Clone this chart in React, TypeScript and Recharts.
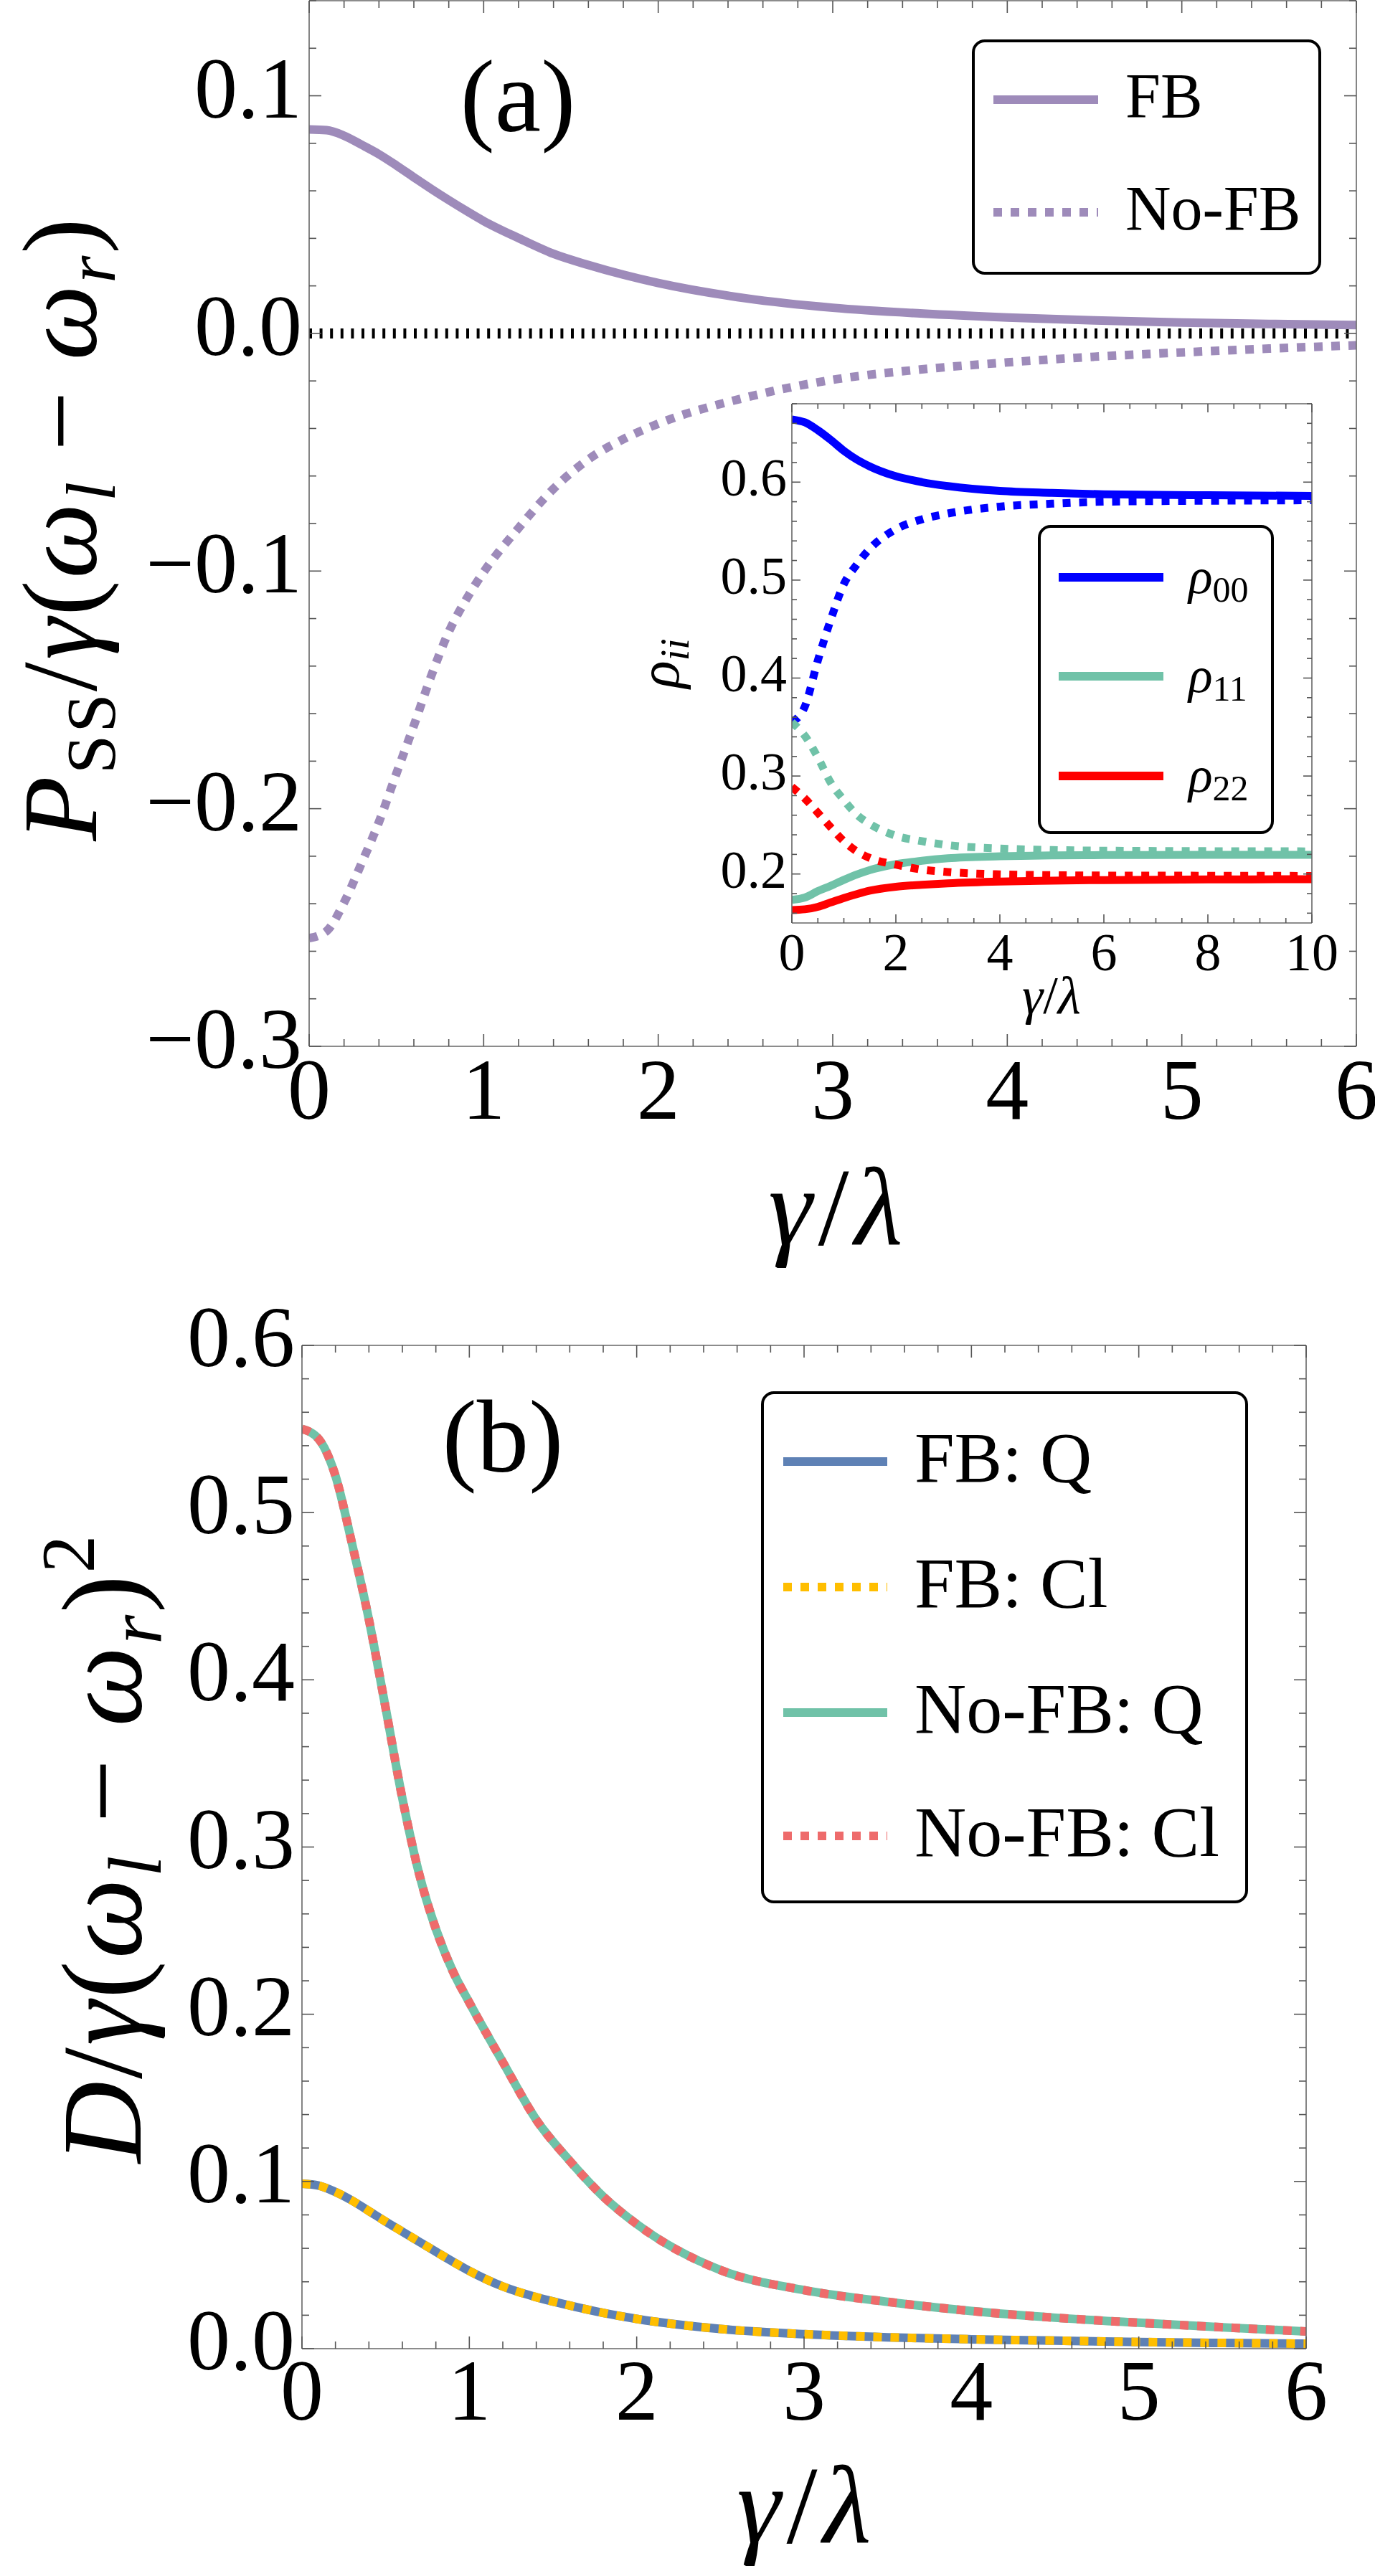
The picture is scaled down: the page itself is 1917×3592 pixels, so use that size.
import React from "react";
import { LineChart, Line, XAxis, YAxis, ReferenceLine, Legend } from "recharts";

const FONT = '"Liberation Serif", "Times New Roman", serif';
const FRAME = "#666";
const TICK = "#555";

// panel (a): steady-state power vs gamma/lambda
const gammaA = [0, 0.1, 0.2, 0.3, 0.4, 0.5, 0.6, 0.7, 0.8, 0.9, 1, 1.2, 1.4, 1.6, 1.8, 2, 2.5, 3, 3.5, 4, 4.5, 5, 5.5, 6];
const powerFB = [0.0858, 0.0855, 0.0832, 0.0794, 0.0754, 0.0707, 0.0657, 0.0608, 0.0561, 0.0516, 0.0473, 0.0401, 0.0335, 0.0288, 0.0247, 0.0212, 0.0148, 0.0108, 0.0084, 0.0067, 0.0055, 0.0046, 0.004, 0.0035];
const powerNoFB = [-0.2545, -0.2515, -0.2395, -0.223, -0.2056, -0.1852, -0.165, -0.144, -0.1256, -0.1119, -0.1004, -0.0819, -0.0654, -0.053, -0.0445, -0.038, -0.027, -0.0195, -0.0152, -0.0122, -0.0098, -0.008, -0.0064, -0.005];
const xMajorA = [0, 1, 2, 3, 4, 5, 6];
const yMajorA = [-0.3, -0.2, -0.1, 0, 0.1];

// inset: populations rho_ii
const gammaIn = [0, 0.25, 0.5, 0.75, 1, 1.25, 1.5, 2, 2.5, 3, 4, 5, 6, 8, 10];
const rho00FB = [0.664, 0.661, 0.653, 0.643, 0.632, 0.623, 0.616, 0.606, 0.6, 0.596, 0.591, 0.589, 0.5876, 0.5866, 0.586];
const rho00NoFB = [0.355, 0.371, 0.418, 0.46, 0.496, 0.516, 0.532, 0.552, 0.562, 0.568, 0.575, 0.578, 0.58, 0.581, 0.5815];
const rho11FB = [0.1736, 0.176, 0.1825, 0.188, 0.194, 0.1995, 0.204, 0.21, 0.2135, 0.216, 0.218, 0.219, 0.2193, 0.2195, 0.2195];
const rho11NoFB = [0.355, 0.341, 0.319, 0.293, 0.2755, 0.2605, 0.251, 0.239, 0.2335, 0.2295, 0.226, 0.2245, 0.2238, 0.2233, 0.2231];
const rho22FB = [0.1632, 0.164, 0.1665, 0.171, 0.1755, 0.1795, 0.183, 0.187, 0.189, 0.1905, 0.1923, 0.1932, 0.1938, 0.1944, 0.1947];
const rho22NoFB = [0.289, 0.277, 0.2625, 0.2475, 0.2335, 0.223, 0.2163, 0.2095, 0.2045, 0.202, 0.1996, 0.1988, 0.1984, 0.1982, 0.198];
const xMajorIn = [0, 2, 4, 6, 8, 10];
const yMajorIn = [0.2, 0.3, 0.4, 0.5, 0.6];

// panel (b): diffusion vs gamma/lambda
const gammaB = [0, 0.1, 0.2, 0.3, 0.4, 0.5, 0.6, 0.7, 0.8, 0.9, 1, 1.2, 1.4, 1.6, 1.8, 2, 2.5, 3, 3.5, 4, 4.5, 5, 5.5, 6];
const diffFBQ = [0.0986, 0.0975, 0.0937, 0.0885, 0.0823, 0.076, 0.07, 0.064, 0.058, 0.0521, 0.0465, 0.0372, 0.0308, 0.0258, 0.0214, 0.0178, 0.0118, 0.0087, 0.0068, 0.0056, 0.0048, 0.004, 0.0034, 0.003];
const diffFBCl = [0.0986, 0.0975, 0.0937, 0.0885, 0.0823, 0.076, 0.07, 0.064, 0.058, 0.0521, 0.0465, 0.0372, 0.0308, 0.0258, 0.0214, 0.0178, 0.0118, 0.0087, 0.0068, 0.0056, 0.0048, 0.004, 0.0034, 0.003];
const diffNoFBQ = [0.55, 0.544, 0.522, 0.481, 0.436, 0.383, 0.329, 0.284, 0.251, 0.226, 0.207, 0.1714, 0.1369, 0.1123, 0.091, 0.0745, 0.047, 0.035, 0.028, 0.0225, 0.0185, 0.0155, 0.0128, 0.0103];
const diffNoFBCl = [0.55, 0.544, 0.522, 0.481, 0.436, 0.383, 0.329, 0.284, 0.251, 0.226, 0.207, 0.1714, 0.1369, 0.1123, 0.091, 0.0745, 0.047, 0.035, 0.028, 0.0225, 0.0185, 0.0155, 0.0128, 0.0103];
const xMajorB = [0, 1, 2, 3, 4, 5, 6];
const yMajorB = [0, 0.1, 0.2, 0.3, 0.4, 0.5, 0.6];

const PURPLE = "#9E8BBA";
const TEAL = "#70C2A8";

const dataA = gammaA.map((g, i) => ({ g, fb: powerFB[i], nofb: powerNoFB[i] }));
const dataIn = gammaIn.map((g, i) => ({
  g,
  r00: rho00FB[i],
  r00n: rho00NoFB[i],
  r11: rho11FB[i],
  r11n: rho11NoFB[i],
  r22: rho22FB[i],
  r22n: rho22NoFB[i],
}));
const dataB = gammaB.map((g, i) => ({ g, fbq: diffFBQ[i], fbcl: diffFBCl[i], nq: diffNoFBQ[i], ncl: diffNoFBCl[i] }));

function steps(lo: number, hi: number, step: number) {
  const out: number[] = [];
  const n = Math.round((hi - lo) / step);
  for (let i = 0; i <= n; i++) out.push(Math.round((lo + i * step) * 1000) / 1000);
  return out;
}

const fmt1 = (v: number) => (Math.abs(v) < 1e-9 ? "0.0" : v.toFixed(1).replace("-", "\u2212"));
const fmt0 = (v: number) => String(Math.round(v));

type Side = "bottom" | "top" | "left" | "right";
interface TickOpts {
  side: Side;
  majors: number[];
  major: number;
  minor: number;
  font?: number;
  gap?: number;
  base?: number;
  fmt?: (v: number) => string;
}

// ticks point inward (Mathematica frame style); labels only on bottom/left
function tickRenderer(o: TickOpts) {
  return (p: any) => {
    const x = p.x as number;
    const y = p.y as number;
    const v = p.payload.value as number;
    const isMajor = o.majors.some((m) => Math.abs(m - v) < 1e-6);
    const len = isMajor ? o.major : o.minor;
    let c = [x, y, x, y - len];
    if (o.side === "top") c = [x, y, x, y + len];
    if (o.side === "left") c = [x, y, x + len, y];
    if (o.side === "right") c = [x, y, x - len, y];
    const label = isMajor && o.font && o.fmt ? o.fmt(v) : null;
    return (
      <g>
        <line x1={c[0]} y1={c[1]} x2={c[2]} y2={c[3]} stroke={TICK} strokeWidth={1.6} />
        {label && o.side === "bottom" && (
          <text x={x} y={y + (o.gap || 0)} textAnchor="middle" fontFamily={FONT} fontSize={o.font} fill="#000">
            {label}
          </text>
        )}
        {label && o.side === "left" && (
          <text x={x - (o.gap || 0)} y={y + (o.base || 0)} textAnchor="end" fontFamily={FONT} fontSize={o.font} fill="#000">
            {label}
          </text>
        )}
      </g>
    );
  };
}

interface Row {
  label: React.ReactNode;
  color: string;
  width: number;
  dash?: string;
  y: number;
}

function LegendBox(props: { w: number; h: number; rows: Row[]; x1: number; x2: number; tx: number; base: number; font: number }) {
  const { w, h, rows, x1, x2, tx, base, font } = props;
  return (
    <svg width={w} height={h} style={{ display: "block" }}>
      <rect x={2} y={2} width={w - 4} height={h - 4} rx={16} ry={16} fill="#fff" stroke="#000" strokeWidth={4} />
      {rows.map((r, i) => (
        <g key={i}>
          <line x1={x1} x2={x2} y1={r.y} y2={r.y} stroke={r.color} strokeWidth={r.width} strokeDasharray={r.dash} />
          <text x={tx} y={r.y + base} fontFamily={FONT} fontSize={font} fill="#000">
            {r.label}
          </text>
        </g>
      ))}
    </svg>
  );
}

const legendRowsA: Row[] = [
  { label: "FB", color: PURPLE, width: 12, y: 84 },
  { label: "No-FB", color: PURPLE, width: 12, dash: "12 12", y: 241 },
];

const rhoLabel = (sub: string) => (
  <>
    <tspan fontStyle="italic">ρ</tspan>
    <tspan fontSize={50} dy={12}>
      {sub}
    </tspan>
  </>
);

const legendRowsIn: Row[] = [
  { label: rhoLabel("00"), color: "#0000FF", width: 12, y: 73 },
  { label: rhoLabel("11"), color: TEAL, width: 12, y: 211 },
  { label: rhoLabel("22"), color: "#FF0000", width: 12, y: 350 },
];

const legendRowsB: Row[] = [
  { label: "FB: Q", color: "#5E81B5", width: 12, y: 98 },
  { label: "FB: Cl", color: "#FFBE00", width: 12, dash: "12 12", y: 273 },
  { label: "No-FB: Q", color: TEAL, width: 12, y: 448 },
  { label: "No-FB: Cl", color: "#EE6B6B", width: 12, dash: "12 12", y: 620 },
];

const axisLineStyle = { stroke: FRAME, strokeWidth: 1.6 };

const GammaLambda = (props: { x: number; y: number; size: number; spacing: number }) => (
  <text x={props.x} y={props.y} textAnchor="middle" fontFamily={FONT} fontSize={props.size} letterSpacing={props.spacing} fill="#000">
    <tspan fontStyle="italic">γ</tspan>
    <tspan>/</tspan>
    <tspan fontStyle="italic">λ</tspan>
  </text>
);

// axes are 1px thick boxes so Recharts still renders them; margins absorb that 1px
const common = { allowDataOverflow: true, interval: 0 as const, tickSize: 0, tickMargin: 0, tickLine: false, axisLine: axisLineStyle };

function PanelA() {
  return (
    <LineChart width={1917} height={1800} data={dataA} margin={{ top: 0, right: 25, bottom: 340, left: 430 }}>
      <XAxis
        {...common}
        xAxisId="b"
        dataKey="g"
        type="number"
        domain={[0, 6]}
        ticks={steps(0, 6, 0.2)}
        height={1}
        tick={tickRenderer({ side: "bottom", majors: xMajorA, major: 17, minor: 10, font: 120, gap: 101, fmt: fmt0 })}
        label={() => <GammaLambda x={1169} y={1735} size={155} spacing={8} />}
      />
      <XAxis
        {...common}
        xAxisId="t"
        orientation="top"
        dataKey="g"
        type="number"
        domain={[0, 6]}
        ticks={steps(0, 6, 0.2)}
        height={1}
        tick={tickRenderer({ side: "top", majors: xMajorA, major: 17, minor: 10 })}
        label={() => (
          <text x={722} y={183} textAnchor="middle" fontFamily={FONT} fontSize={145} fill="#000">
            (a)
          </text>
        )}
      />
      <YAxis
        {...common}
        yAxisId="l"
        type="number"
        domain={[-0.3, 0.14]}
        ticks={steps(-0.3, 0.14, 0.02)}
        width={1}
        tick={tickRenderer({ side: "left", majors: yMajorA, major: 17, minor: 10, font: 120, gap: 10, base: 30, fmt: fmt1 })}
        label={() => (
          <text transform="translate(134,737) rotate(-90)" textAnchor="middle" fontFamily={FONT} fontSize={148} letterSpacing={3} fill="#000">
            <tspan fontStyle="italic">P</tspan>
            <tspan fontSize={98} dy={26}>SS</tspan>
            <tspan dy={-26}>/</tspan>
            <tspan fontStyle="italic">γ</tspan>
            <tspan>(</tspan>
            <tspan fontStyle="italic">ω</tspan>
            <tspan fontStyle="italic" fontSize={98} dy={26}>l</tspan>
            <tspan dy={-26}>{" \u2212 "}</tspan>
            <tspan fontStyle="italic">ω</tspan>
            <tspan fontStyle="italic" fontSize={98} dy={26}>r</tspan>
            <tspan dy={-26}>)</tspan>
          </text>
        )}
      />
      <YAxis
        {...common}
        yAxisId="r"
        orientation="right"
        type="number"
        domain={[-0.3, 0.14]}
        ticks={steps(-0.3, 0.14, 0.02)}
        width={1}
        tick={tickRenderer({ side: "right", majors: yMajorA, major: 17, minor: 10 })}
      />
      <ReferenceLine xAxisId="b" yAxisId="l" y={0} stroke="#000" strokeWidth={14} strokeDasharray="4 10.6" />
      <Line xAxisId="b" yAxisId="l" type="monotone" dataKey="fb" name="FB" stroke={PURPLE} strokeWidth={12} dot={false} activeDot={false} isAnimationActive={false} />
      <Line xAxisId="b" yAxisId="l" type="monotone" dataKey="nofb" name="No-FB" stroke={PURPLE} strokeWidth={12} strokeDasharray="12 12" dot={false} activeDot={false} isAnimationActive={false} />
      <Legend
        layout="vertical"
        align="center"
        verticalAlign="middle"
        wrapperStyle={{ left: 1355, top: 55, width: 487, height: 328 }}
        content={() => <LegendBox w={487} h={328} rows={legendRowsA} x1={30} x2={176} tx={214} base={24} font={88} />}
      />
    </LineChart>
  );
}

function Inset() {
  const lineProps = { xAxisId: "b", yAxisId: "l", type: "monotone" as const, strokeWidth: 11, dot: false, activeDot: false, isAnimationActive: false };
  return (
    <LineChart width={1040} height={900} data={dataIn} margin={{ top: 22, right: 50, bottom: 152, left: 263 }}>
      <XAxis
        {...common}
        xAxisId="b"
        dataKey="g"
        type="number"
        domain={[0, 10]}
        ticks={steps(0, 10, 0.5)}
        height={1}
        tick={tickRenderer({ side: "bottom", majors: xMajorIn, major: 12, minor: 7, font: 74, gap: 66, fmt: fmt0 })}
        label={() => <GammaLambda x={626} y={873} size={74} spacing={0} />}
      />
      <XAxis
        {...common}
        xAxisId="t"
        orientation="top"
        dataKey="g"
        type="number"
        domain={[0, 10]}
        ticks={steps(0, 10, 0.5)}
        height={1}
        tick={tickRenderer({ side: "top", majors: xMajorIn, major: 12, minor: 7 })}
      />
      <YAxis
        {...common}
        yAxisId="l"
        type="number"
        domain={[0.15, 0.68]}
        ticks={steps(0.16, 0.68, 0.02)}
        width={1}
        tick={tickRenderer({ side: "left", majors: yMajorIn, major: 12, minor: 7, font: 74, gap: 7, base: 19, fmt: fmt1 })}
        label={() => (
          <text transform="translate(106,385) rotate(-90)" textAnchor="middle" fontFamily={FONT} fontSize={80} fill="#000">
            <tspan fontStyle="italic">ρ</tspan>
            <tspan fontStyle="italic" fontSize={56} dy={14}>ii</tspan>
          </text>
        )}
      />
      <YAxis
        {...common}
        yAxisId="r"
        orientation="right"
        type="number"
        domain={[0.15, 0.68]}
        ticks={steps(0.16, 0.68, 0.02)}
        width={1}
        tick={tickRenderer({ side: "right", majors: yMajorIn, major: 12, minor: 7 })}
      />
      <Line {...lineProps} dataKey="r00" stroke="#0000FF" />
      <Line {...lineProps} dataKey="r11" stroke={TEAL} />
      <Line {...lineProps} dataKey="r22" stroke="#FF0000" />
      <Line {...lineProps} dataKey="r00n" stroke="#0000FF" strokeDasharray="11 12" />
      <Line {...lineProps} dataKey="r11n" stroke={TEAL} strokeDasharray="11 12" />
      <Line {...lineProps} dataKey="r22n" stroke="#FF0000" strokeDasharray="11 12" />
      <Legend
        layout="vertical"
        align="center"
        verticalAlign="middle"
        wrapperStyle={{ left: 607, top: 192, width: 329, height: 431 }}
        content={() => <LegendBox w={329} h={431} rows={legendRowsIn} x1={29} x2={175} tx={210} base={22} font={70} />}
      />
    </LineChart>
  );
}

function PanelB() {
  const lineProps = { xAxisId: "b", yAxisId: "l", type: "monotone" as const, strokeWidth: 12, dot: false, activeDot: false, isAnimationActive: false };
  return (
    <LineChart width={1917} height={1812} data={dataB} margin={{ top: 95, right: 95, bottom: 316, left: 420 }}>
      <XAxis
        {...common}
        xAxisId="b"
        dataKey="g"
        type="number"
        domain={[0, 6]}
        ticks={steps(0, 6, 0.2)}
        height={1}
        tick={tickRenderer({ side: "bottom", majors: xMajorB, major: 17, minor: 10, font: 120, gap: 99, fmt: fmt0 })}
        label={() => <GammaLambda x={1125} y={1765} size={155} spacing={8} />}
      />
      <XAxis
        {...common}
        xAxisId="t"
        orientation="top"
        dataKey="g"
        type="number"
        domain={[0, 6]}
        ticks={steps(0, 6, 0.2)}
        height={1}
        tick={tickRenderer({ side: "top", majors: xMajorB, major: 17, minor: 10 })}
        label={() => (
          <text x={701} y={272} textAnchor="middle" fontFamily={FONT} fontSize={145} fill="#000">
            (b)
          </text>
        )}
      />
      <YAxis
        {...common}
        yAxisId="l"
        type="number"
        domain={[0, 0.6]}
        ticks={steps(0, 0.6, 0.02)}
        width={1}
        tick={tickRenderer({ side: "left", majors: yMajorB, major: 17, minor: 10, font: 120, gap: 10, base: 29, fmt: fmt1 })}
        label={() => (
          <text transform="translate(196,797) rotate(-90)" textAnchor="middle" fontFamily={FONT} fontSize={158} letterSpacing={3} fill="#000">
            <tspan fontStyle="italic">D</tspan>
            <tspan>/</tspan>
            <tspan fontStyle="italic">γ</tspan>
            <tspan>(</tspan>
            <tspan fontStyle="italic">ω</tspan>
            <tspan fontStyle="italic" fontSize={105} dy={28}>l</tspan>
            <tspan dy={-28}>{" \u2212 "}</tspan>
            <tspan fontStyle="italic">ω</tspan>
            <tspan fontStyle="italic" fontSize={105} dy={28}>r</tspan>
            <tspan dy={-28}>)</tspan>
            <tspan fontSize={105} dy={-65}>2</tspan>
          </text>
        )}
      />
      <YAxis
        {...common}
        yAxisId="r"
        orientation="right"
        type="number"
        domain={[0, 0.6]}
        ticks={steps(0, 0.6, 0.02)}
        width={1}
        tick={tickRenderer({ side: "right", majors: yMajorB, major: 17, minor: 10 })}
      />
      <Line {...lineProps} dataKey="fbq" name="FB: Q" stroke="#5E81B5" />
      <Line {...lineProps} dataKey="fbcl" name="FB: Cl" stroke="#FFBE00" strokeDasharray="12 12" />
      <Line {...lineProps} dataKey="nq" name="No-FB: Q" stroke={TEAL} />
      <Line {...lineProps} dataKey="ncl" name="No-FB: Cl" stroke="#EE6B6B" strokeDasharray="12 12" />
      <Legend
        layout="vertical"
        align="center"
        verticalAlign="middle"
        wrapperStyle={{ left: 1061, top: 160, width: 679, height: 714 }}
        content={() => <LegendBox w={679} h={714} rows={legendRowsB} x1={31} x2={176} tx={214} base={28} font={100} />}
      />
    </LineChart>
  );
}

export default function App() {
  return (
    <div style={{ position: "absolute", left: 0, top: 0, width: 1917, height: 3592, background: "#fff", overflow: "hidden" }}>
      <div style={{ position: "absolute", left: 0, top: 0 }}>
        <PanelA />
      </div>
      <div style={{ position: "absolute", left: 840, top: 540 }}>
        <Inset />
      </div>
      <div style={{ position: "absolute", left: 0, top: 1780 }}>
        <PanelB />
      </div>
    </div>
  );
}
